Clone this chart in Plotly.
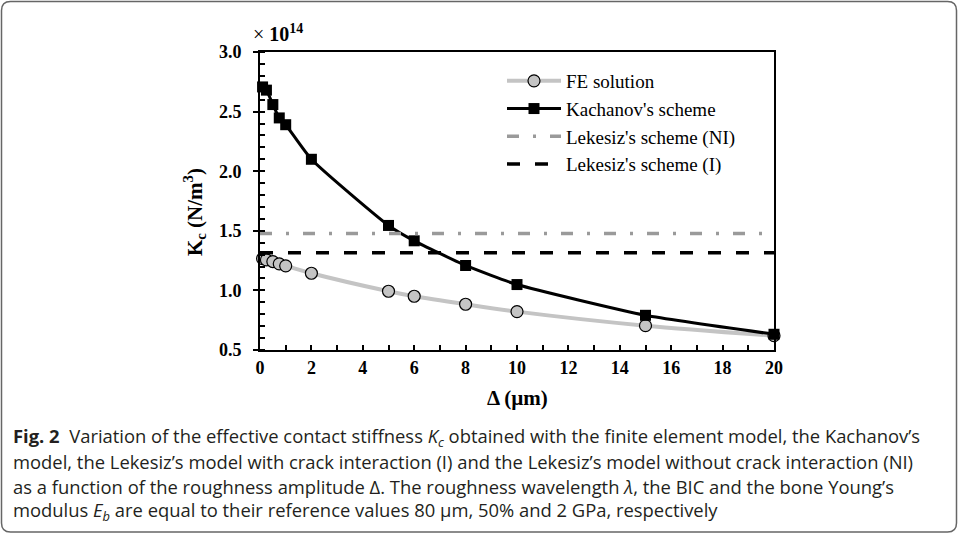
import plotly.graph_objects as go

# ---- data (K_c values in units of 1e14 N/m^3) ----
delta_fe = [0.1, 0.25, 0.5, 0.75, 1, 2, 5, 6, 8, 10, 15, 20]
kc_fe = [1.267, 1.256, 1.242, 1.223, 1.206, 1.144, 0.993, 0.951, 0.884, 0.822, 0.704, 0.620]

delta_kach = [0.1, 0.25, 0.5, 0.75, 1, 2, 5, 6, 8, 10, 15, 20]
kc_kach = [2.707, 2.680, 2.559, 2.447, 2.390, 2.100, 1.545, 1.416, 1.209, 1.049, 0.791, 0.632]

delta_span = [0, 20]
kc_lek_ni = [1.477, 1.477]
kc_lek_i = [1.315, 1.315]

x_ticks = [0, 2, 4, 6, 8, 10, 12, 14, 16, 18, 20]
y_ticks = [0.5, 1.0, 1.5, 2.0, 2.5, 3.0]

caption_lines = [
    "<b>Fig. 2</b>  Variation of the effective contact stiffness <i>K<sub>c</sub></i> obtained with the finite element model, the Kachanov’s",
    "model, the Lekesiz’s model with crack interaction (I) and the Lekesiz’s model without crack interaction (NI)",
    "as a function of the roughness amplitude Δ. The roughness wavelength <i>λ</i>, the BIC and the bone Young’s",
    "modulus <i>E<sub>b</sub></i> are equal to their reference values 80 µm, 50% and 2 GPa, respectively",
]

W, H = 959, 534
ML, MR, MT, MB = 260, 185, 52, 184
PW, PH = W - ML - MR, H - MT - MB


def px(xp):
    return (xp - ML) / PW


def py(yp):
    return 1 - (yp - MT) / PH


serif = "Liberation Serif, Times New Roman, serif"

fig = go.Figure()
fig.add_trace(go.Scatter(
    x=delta_fe, y=kc_fe, name="FE solution", mode="lines+markers",
    line=dict(color="#c4c4c4", width=4, shape="spline", smoothing=0.8),
    marker=dict(symbol="circle", size=12, color="#c4c4c4", line=dict(color="black", width=1.2)),
    cliponaxis=False, legendgroup="a"))
fig.add_trace(go.Scatter(
    x=delta_kach, y=kc_kach, name="Kachanov's scheme", mode="lines+markers",
    line=dict(color="black", width=3, shape="spline", smoothing=0.5),
    marker=dict(symbol="square", size=11, color="black"),
    cliponaxis=False, legendgroup="b"))
fig.add_trace(go.Scatter(
    x=delta_span, y=kc_lek_ni, name="Lekesiz's scheme (NI)", mode="lines",
    line=dict(color="#9a9a9a", width=3.5, dash="12px,14px,3px,14px"),
    legendgroup="c"))
fig.add_trace(go.Scatter(
    x=delta_span, y=kc_lek_i, name="Lekesiz's scheme (I)", mode="lines",
    line=dict(color="black", width=3.5, dash="13px,15px"),
    legendgroup="d"))

fig.update_layout(
    width=W, height=H,
    margin=dict(l=ML, r=MR, t=MT, b=MB),
    paper_bgcolor="white", plot_bgcolor="white",
    showlegend=True,
    legend=dict(x=px(502), y=py(62), xanchor="left", yanchor="top",
                font=dict(family=serif, size=19, color="black"),
                bgcolor="rgba(0,0,0,0)", itemwidth=54,
                tracegroupgap=0, traceorder="grouped"),
    font=dict(family=serif, color="black"),
)

fig.update_xaxes(
    range=[0, 20], tickvals=x_ticks, ticktext=[str(v) for v in x_ticks],
    showline=True, linecolor="black", linewidth=2, mirror=True,
    ticks="inside", ticklen=5, tickwidth=1.5, tickcolor="black",
    minor=dict(dtick=1, ticks="inside", ticklen=5, tickwidth=1.5, tickcolor="black"),
    showgrid=False, zeroline=False,
    tickfont=dict(family=serif, size=18, color="black", weight="bold"),
    ticklabelstandoff=0,
)
fig.update_yaxes(
    range=[0.5, 3.0], tickvals=y_ticks, ticktext=[f"{v:.1f}" for v in y_ticks],
    showline=True, linecolor="black", linewidth=2, mirror=True,
    ticks="outside", ticklen=5, tickwidth=1.5, tickcolor="black",
    minor=dict(dtick=0.1, ticks="inside", ticklen=5, tickwidth=1.5, tickcolor="black"),
    showgrid=False, zeroline=False,
    tickfont=dict(family=serif, size=18, color="black", weight="bold"),
    ticklabelstandoff=8,
)

# axis titles and multiplier
fig.add_annotation(x=px(194), y=py(212), xref="paper", yref="paper",
                   xanchor="center", yanchor="middle",
                   text="<b>K<sub>c</sub> (N/m<sup>3</sup>)</b>", textangle=-90,
                   showarrow=False, font=dict(family=serif, size=21, color="black"))
fig.add_annotation(x=px(517), y=py(398), xref="paper", yref="paper",
                   xanchor="center", yanchor="middle",
                   text="<b>Δ (µm)</b>", showarrow=False,
                   font=dict(family=serif, size=21, color="black"))
fig.add_annotation(x=px(251), y=py(33), xref="paper", yref="paper",
                   xanchor="left", yanchor="middle",
                   text="× <b>10</b><sup><b>14</b></sup>", showarrow=False,
                   font=dict(family=serif, size=20, color="black"))

# caption
for i, line in enumerate(caption_lines):
    fig.add_annotation(x=px(11), y=py(437 + 24.8 * i), xref="paper", yref="paper",
                       xanchor="left", yanchor="middle", align="left",
                       text=line, showarrow=False,
                       font=dict(family="Open Sans, Liberation Sans, sans-serif", size=18.4, color="#231f20"))

# rounded page border
x0, x1, y0, y1, r = 1.5, 956.5, 1.5, 532, 9
path = (f"M {px(x0 + r)},{py(y0)} L {px(x1 - r)},{py(y0)} Q {px(x1)},{py(y0)} {px(x1)},{py(y0 + r)} "
        f"L {px(x1)},{py(y1 - r)} Q {px(x1)},{py(y1)} {px(x1 - r)},{py(y1)} "
        f"L {px(x0 + r)},{py(y1)} Q {px(x0)},{py(y1)} {px(x0)},{py(y1 - r)} "
        f"L {px(x0)},{py(y0 + r)} Q {px(x0)},{py(y0)} {px(x0 + r)},{py(y0)} Z")
fig.add_shape(type="path", path=path, xref="paper", yref="paper",
              line=dict(color="#666666", width=1.5), layer="below")

fig.write_html("out.html", config={"displayModeBar": False},
               post_script="document.body.style.margin='0';document.body.style.overflow='hidden';")
